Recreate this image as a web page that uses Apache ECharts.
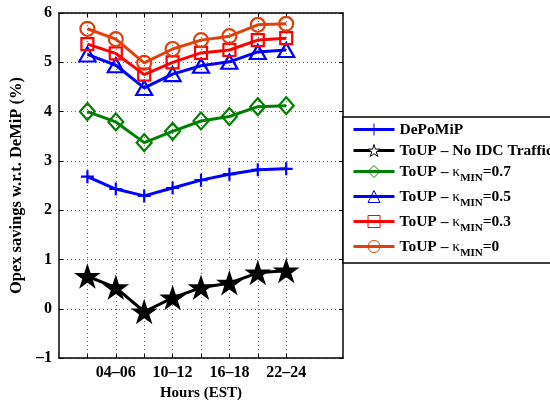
<!DOCTYPE html>
<html>
<head>
<meta charset="utf-8">
<script src="https://cdn.jsdelivr.net/npm/echarts@6/dist/echarts.min.js"></script>
<style>html,body{margin:0;padding:0;background:#fff}#c{width:550px;height:406px}</style>
</head>
<body>
<div id="c"></div>
<script>
const hours = ['01–03','04–06','07–09','10–12','13–15','16–18','19–21','22–24'];
const depomip = [2.68, 2.43, 2.29, 2.45, 2.61, 2.73, 2.82, 2.84];
const noIdc   = [0.66, 0.43, -0.06, 0.22, 0.43, 0.52, 0.73, 0.77];
const kmin07  = [4.00, 3.79, 3.37, 3.60, 3.81, 3.90, 4.10, 4.12];
const kmin05  = [5.16, 4.94, 4.48, 4.76, 4.93, 5.01, 5.21, 5.25];
const kmin03  = [5.37, 5.18, 4.75, 5.00, 5.19, 5.25, 5.45, 5.49];
const kmin0   = [5.68, 5.47, 4.99, 5.27, 5.45, 5.53, 5.76, 5.78];
const seriesNames = ['DePoMiP', 'ToUP – No IDC Traffic', 'ToUP – κMIN=0.7', 'ToUP – κMIN=0.5', 'ToUP – κMIN=0.3', 'ToUP – κMIN=0'];
const yMin = -1, yMax = 6, yStep = 1;

const FONT = 'Liberation Serif';
const axisData = [''].concat(hours, ['', '']);
const pairs = vals => vals.map((v, i) => [hours[i], v]);

const STAR = 'path://M10,0L12.25,6.91L19.51,6.91L13.63,11.18L15.88,18.09L10,13.82L4.12,18.09L6.37,11.18L0.49,6.91L7.75,6.91Z';
const PLUS = 'path://M0,5L10,5M5,0L5,10';

function mk(name, vals, color, symbol, size, filled) {
  return {
    name: name, type: 'line', data: pairs(vals),
    symbol: symbol, symbolSize: size, symbolKeepAspect: symbol === STAR,
    showSymbol: true, showAllSymbol: true, animation: false,
    lineStyle: { color: color, width: 3 },
    itemStyle: { color: filled ? color : 'transparent', borderColor: color, borderWidth: 2.2 },
    emphasis: { disabled: true }
  };
}

const chart = echarts.init(document.getElementById('c'), null, { renderer: 'canvas' });
const inRange = idx => idx >= 1 && idx <= 8;

chart.setOption({
  animation: false,
  backgroundColor: '#fff',
  grid: { left: 59, right: 207, top: 13, bottom: 39, containLabel: false, show: false },
  xAxis: [{
    type: 'category', data: axisData, boundaryGap: false, position: 'bottom',
    axisLine: { onZero: false, lineStyle: { color: '#000', width: 1.5 } },
    axisTick: { inside: true, length: 4, interval: (i) => inRange(i), lineStyle: { color: '#000' } },
    axisLabel: { interval: (i) => i % 2 === 0 && i >= 2 && i <= 8, margin: 7, color: '#000', fontFamily: FONT, fontWeight: 'bold', fontSize: 16 },
    splitLine: { show: true, interval: (i) => inRange(i), lineStyle: { color: '#666', type: [1, 3], width: 1 } },
    name: 'Hours (EST)', nameLocation: 'middle', nameGap: 21,
    nameTextStyle: { color: '#000', fontFamily: FONT, fontWeight: 'bold', fontSize: 15 }
  }, {
    type: 'category', data: axisData, boundaryGap: false, position: 'top',
    axisLine: { onZero: false, lineStyle: { color: '#000', width: 1.5 } },
    axisTick: { inside: true, length: 4, interval: (i) => inRange(i), lineStyle: { color: '#000' } },
    axisLabel: { show: false }, splitLine: { show: false }
  }],
  yAxis: [{
    type: 'value', min: yMin, max: yMax, interval: yStep, position: 'left',
    axisLine: { show: true, onZero: false, lineStyle: { color: '#000', width: 1.5 } },
    axisTick: { show: true, inside: true, length: 4, lineStyle: { color: '#000' } },
    axisLabel: { margin: 7, color: '#000', fontFamily: FONT, fontWeight: 'bold', fontSize: 16,
      formatter: v => (v < 0 ? '–' + Math.abs(v) : String(v)) },
    splitLine: { show: true, lineStyle: { color: '#666', type: [1, 3], width: 1 } },
    name: 'Opex savings w.r.t. DeMiP (%)', nameLocation: 'middle', nameGap: 31, nameRotate: 90,
    nameTextStyle: { color: '#000', fontFamily: FONT, fontWeight: 'bold', fontSize: 16.5 }
  }, {
    type: 'value', min: yMin, max: yMax, interval: yStep, position: 'right',
    axisLine: { show: true, onZero: false, lineStyle: { color: '#000', width: 1.5 } },
    axisTick: { show: true, inside: true, length: 4, lineStyle: { color: '#000' } },
    axisLabel: { show: false }, splitLine: { show: false }
  }],
  legend: {
    orient: 'vertical', left: 343, top: 117,
    padding: [5, 80, 4, 9], itemGap: 5, itemWidth: 41, itemHeight: 15,
    backgroundColor: '#fff', borderColor: '#000', borderWidth: 1.5, borderRadius: 0,
    selectedMode: false,
    itemStyle: { borderWidth: 1 },
    lineStyle: { width: 3 },
    data: [
      { name: seriesNames[0] },
      { name: seriesNames[1], itemStyle: { color: '#fff', borderColor: '#000', borderWidth: 1 } },
      { name: seriesNames[2] }, { name: seriesNames[3] }, { name: seriesNames[4] }, { name: seriesNames[5] }
    ],
    formatter: function (name) {
      const m = name.match(/^ToUP – κMIN=(.*)$/);
      if (m) return '{m|ToUP – }{k|κ}{s|MIN}{m|=' + m[1] + '}';
      return '{m|' + name + '}';
    },
    textStyle: {
      color: '#000', fontFamily: FONT, fontWeight: 'bold', fontSize: 15,
      rich: {
        m: { fontFamily: FONT, fontWeight: 'bold', fontSize: 15.5, lineHeight: 15, verticalAlign: 'top', color: '#000' },
        k: { fontFamily: FONT, fontWeight: 'normal', fontSize: 15.5, lineHeight: 15, verticalAlign: 'top', color: '#000' },
        s: { fontFamily: FONT, fontWeight: 'bold', fontSize: 11, lineHeight: 6, padding: [9, 0, 0, 0], verticalAlign: 'top', color: '#000' }
      }
    }
  },
  series: [
    mk(seriesNames[0], depomip, '#0000ff', PLUS, 13, false),
    mk(seriesNames[1], noIdc, '#000000', STAR, 20, true),
    mk(seriesNames[2], kmin07, '#008000', 'diamond', [15, 17], false),
    mk(seriesNames[3], kmin05, '#0000ff', 'triangle', [16, 14], false),
    mk(seriesNames[4], kmin03, '#ff0000', 'rect', 12, false),
    mk(seriesNames[5], kmin0, '#e0400e', 'circle', 14, false)
  ]
});
</script>
</body>
</html>
